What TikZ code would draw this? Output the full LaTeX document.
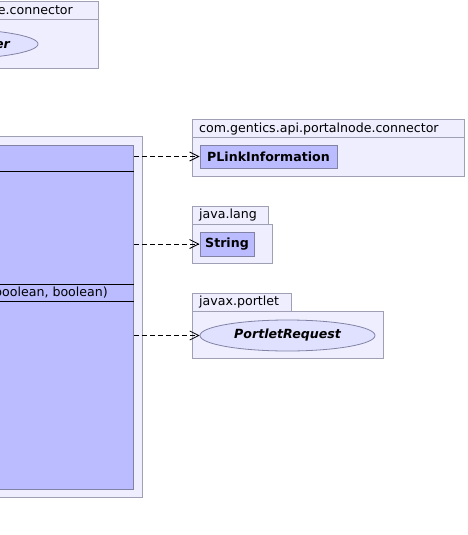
\documentclass[tikz,border=0pt]{standalone}
\usepackage{fontspec}
\setmainfont{DejaVu Sans}
\usetikzlibrary{arrows.meta,shapes.geometric}
\definecolor{pkgfill}{RGB}{238,238,255}
\definecolor{pkgline}{RGB}{160,160,180}
\definecolor{clsfill}{RGB}{187,187,255}
\definecolor{clsline}{RGB}{130,130,165}
\definecolor{ellfill}{RGB}{224,224,255}
\tikzset{
  pkg/.style={draw=pkgline, fill=pkgfill, line width=1pt},
  cls/.style={draw=clsline, fill=clsfill, line width=1pt, rectangle, inner sep=0pt, font=\fontsize{12.6}{14}\selectfont\bfseries},
  ell/.style={draw=clsline, fill=ellfill, line width=0.8pt, ellipse, inner sep=0pt, font=\fontsize{12.6}{14}\selectfont\bfseries\itshape},
  pkgname/.style={inner sep=0pt, font=\fontsize{12.6}{14}\selectfont},
  member/.style={inner sep=0pt, font=\fontsize{12.6}{14}\selectfont},
  sep/.style={draw=black, line width=1pt},
  dep/.style={draw=black, line width=0.8pt, dash pattern=on 5pt off 3pt, -{Straight Barb[length=9pt,width=9pt,line width=0.8pt]}}
}
\begin{document}
\begin{tikzpicture}[x=1pt,y=-1pt]
\useasboundingbox (0,0) rectangle (467,535);
\clip (0,0) rectangle (467,535);
\fill[white] (0,0) rectangle (467,535);

% top-left package (cut off)
\draw[pkg] (-150,2) rectangle (98,68);
\draw[pkgline, line width=1pt] (-150,20) -- (98,20);
\node[pkgname, anchor=base east] (pkgA) at (73,15) {com.gentics.api.portalnode.connector};
\node[ell, minimum width=196pt, minimum height=31pt] (ifcA) at (-60,44) {};
\node[inner sep=0pt, anchor=base east, font=\fontsize{12.6}{14}\selectfont\bfseries\itshape] (ifcAtext) at (10,48.5) {er};

% big package with main class (cut off)
\draw[pkg] (-250,136) rectangle (142,497);
\node[cls, minimum width=384pt, minimum height=344pt, anchor=north east] (main) at (134,145) {};
\draw[sep] (-250,171) -- (134,171);
\draw[sep] (-250,284) -- (134,284);
\draw[sep] (-250,301) -- (134,301);
\node[member, anchor=base east] (meth) at (108,296.5) {boolean, boolean)};

% com.gentics.api.portalnode.connector package
\draw[pkg] (192,119) rectangle (464,176);
\draw[pkgline, line width=1pt] (192,137) -- (464,137);
\node[pkgname, anchor=base west] (pkgB) at (199,132) {com.gentics.api.portalnode.connector};
\node[cls, minimum width=137pt, minimum height=23pt] (plink) at (268.5,156.5) {PLinkInformation};

% java.lang package
\draw[pkg] (192,206) rectangle (268,224);
\draw[pkg] (192,224) rectangle (272,263);
\node[pkgname, anchor=base west] (pkgC) at (199,218.5) {java.lang};
\node[cls, minimum width=54pt, minimum height=24pt] (string) at (227,244) {String};

% javax.portlet package
\draw[pkg] (192,293) rectangle (291,311);
\draw[pkg] (192,311) rectangle (383,358);
\node[pkgname, anchor=base west] (pkgD) at (199,305.5) {javax.portlet};
\node[ell, minimum width=175pt, minimum height=31pt] (preq) at (287.5,335.5) {PortletRequest};

% dependencies
\draw[dep] (main.east |- plink.west) -- (plink.west);
\draw[dep] (main.east |- string.west) -- (string.west);
\draw[dep] (main.east |- preq.west) -- (preq.west);
\end{tikzpicture}
\end{document}
